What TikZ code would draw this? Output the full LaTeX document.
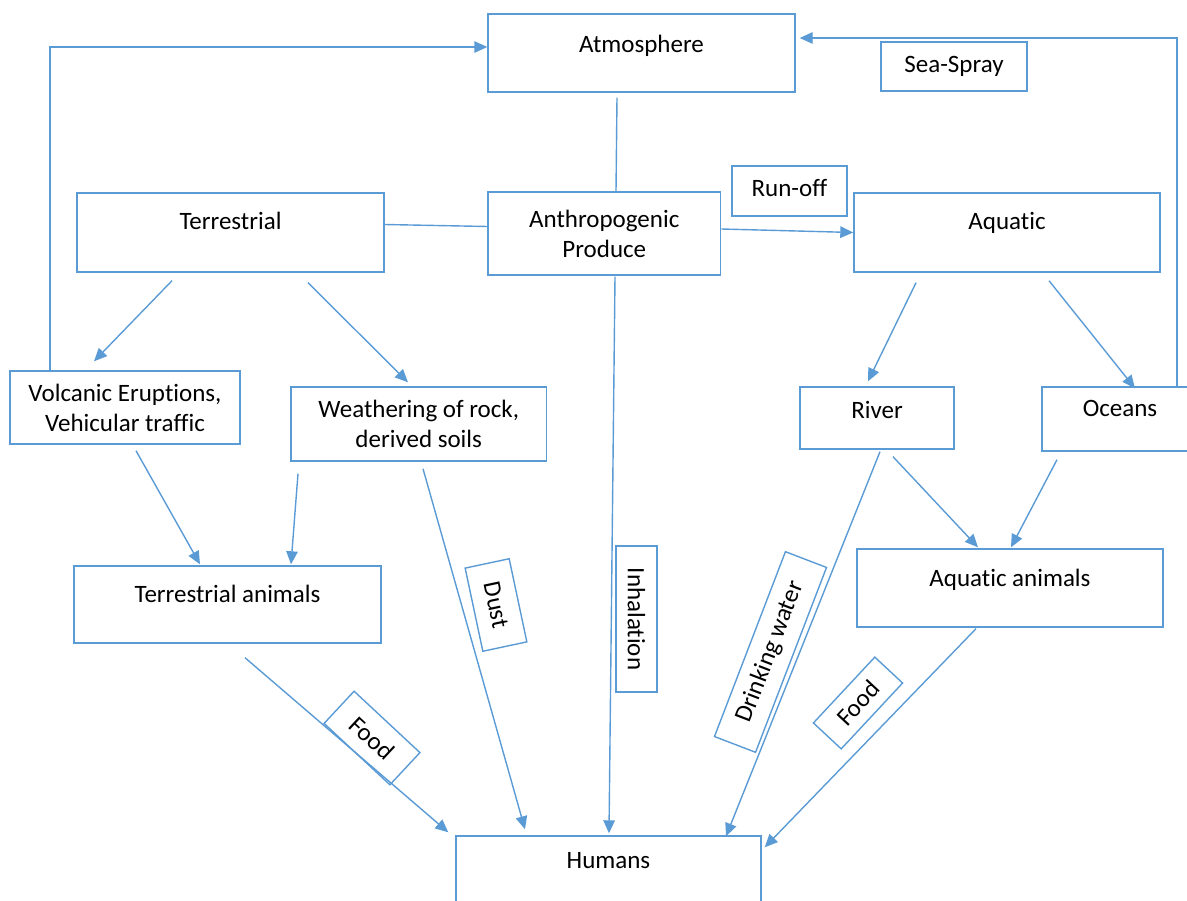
\documentclass[tikz,border=0pt]{standalone}
\usepackage{fontspec}
\setmainfont[Ligatures=NoCommon]{Carlito}
\usetikzlibrary{arrows.meta}
\definecolor{lb}{HTML}{5B9BD5}
\tikzset{
  box/.style={draw=lb, line width=1.4pt, inner sep=0pt, font=\fontsize{25}{30}\selectfont, align=center},
  sz/.style n args={2}{minimum width=#1, minimum height=#2},
  tp/.style n args={2}{text height=#1, text depth=#2},
  ln/.style={draw=lb, line width=1.4pt},
  arr/.style={draw=lb, line width=1.4pt, -{Triangle[length=13pt,width=11.5pt]}}
}
\begin{document}
\begin{tikzpicture}[x=1pt,y=-1pt]
\path[use as bounding box, clip] (0,0) rectangle (1187,901);
% boxes
\node[box, minimum width=307pt, tp={39pt}{39pt}] (atm) at (641.5,53) {Atmosphere};
\node[box, minimum width=146pt, tp={31pt}{18pt}] (sea) at (954,66.5) {Sea-Spray};
\node[box, minimum width=115pt, tp={31pt}{19pt}] (run) at (789.5,191) {Run-off};
\node[box, minimum width=307pt, tp={37pt}{42pt}] (terr) at (230.5,232.5) {Terrestrial};
\node[box, sz={232.6pt}{83pt}] (anth) at (604.3,233.5) {Anthropogenic\\Produce};
\node[box, minimum width=306pt, tp={37pt}{42pt}] (aqua) at (1007,232.5) {Aquatic};
\node[box, sz={230pt}{73pt}] (volc) at (125,407.5) {Volcanic Eruptions,\\Vehicular traffic};
\node[box, sz={255.5pt}{74pt}] (weat) at (418.75,424) {Weathering of rock,\\derived soils};
\node[box, minimum width=154pt, tp={31pt}{31pt}] (river) at (877,418) {River};
\node[box, minimum width=156pt, tp={30pt}{34pt}] (ocean) at (1120,419) {Oceans};
\node[box, minimum width=307pt, tp={36pt}{41pt}] (tanim) at (227.5,604.5) {Terrestrial animals};
\node[box, minimum width=306pt, tp={37pt}{41pt}] (aanim) at (1010,588) {Aquatic animals};
\node[box, minimum width=305pt, tp={32pt}{48pt}] (hum) at (608.5,876) {Humans};
% rotated labels
\node[box, sz={85pt}{45pt}, rotate=-78] (dust) at (496,605) {Dust};
\node[box, sz={146pt}{41pt}, rotate=-90] (inh) at (636.5,619) {Inhalation};
\node[box, sz={198pt}{44pt}, rotate=69] (dw) at (770.5,652) {Drinking water};
\node[box, sz={90pt}{44pt}, rotate=-43] (food1) at (372,738) {Food};
\node[box, sz={90pt}{38pt}, rotate=47] (food2) at (858,703) {Food};
% connectors
\draw[arr] ([shift={(-75,0)}]volc.north) |- ([shift={(0,-6)}]atm.west);
\draw[ln] ([shift={(0,-8)}]terr.east) -- ([shift={(0,-7)}]anth.west);
\draw[ln] ([shift={(-24.5,5)}]atm.south) -- ([shift={(11.7,0)}]anth.north);
\draw[arr] ([shift={(0,-4.5)}]anth.east) -- (aqua.west);
\draw[arr] ([shift={(57,0)}]ocean.north) |- ([shift={(4,-15)}]atm.east);
\draw[arr] ([shift={(-58.5,8)}]terr.south) -- ([shift={(-31,-9)}]volc.north);
\draw[arr] ([shift={(77.5,10)}]terr.south) -- ([shift={(-10.75,-4)}]weat.north);
\draw[arr] ([shift={(11,6)}]volc.south) -- ([shift={(-27.5,-1)}]tanim.north);
\draw[arr] ([shift={(-120.75,12)}]weat.south) -- ([shift={(63.5,-1)}]tanim.north);
\draw[arr] ([shift={(17.5,14)}]tanim.south) -- ([shift={(-7,-3)}]hum.north west);
\draw[arr] ([shift={(4.25,7)}]weat.south) -- ([shift={(-83.5,-6)}]hum.north);
\draw[arr] ([shift={(10.7,1)}]anth.south) -- ([shift={(0.5,-2)}]hum.north);
\draw[arr] ([shift={(3,2)}]river.south) -- ([shift={(117.5,1)}]hum.north);
\draw[arr] ([shift={(-34,1)}]aanim.south) -- ([shift={(3,12)}]hum.north east);
\draw[arr] ([shift={(-91,10)}]aqua.south) -- ([shift={(-9,-5)}]river.north);
\draw[arr] ([shift={(42,8)}]aqua.south) -- ([shift={(15,2)}]ocean.north);
\draw[arr] ([shift={(16,7)}]river.south) -- ([shift={(-32,-1)}]aanim.north);
\draw[arr] ([shift={(-63,8)}]ocean.south) -- ([shift={(1,-1)}]aanim.north);
\end{tikzpicture}
\end{document}
